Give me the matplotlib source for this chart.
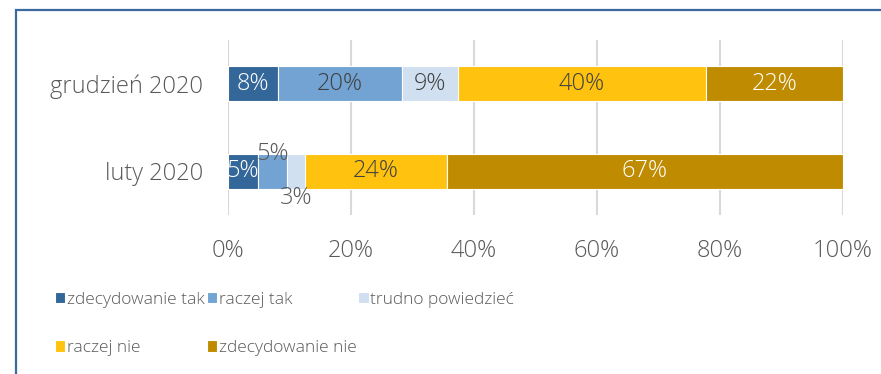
import numpy as np
import matplotlib
matplotlib.use("Agg")
import matplotlib.pyplot as plt
from matplotlib.patches import Rectangle
from matplotlib.ticker import FuncFormatter

plt.rcParams['font.family'] = ['Open Sans', 'DejaVu Sans']
plt.rcParams['font.weight'] = 300

periods = ['luty 2020', 'grudzień 2020']
answers = ['zdecydowanie tak', 'raczej tak', 'trudno powiedzieć', 'raczej nie', 'zdecydowanie nie']
# raw shares (%) per answer, one list per period
luty = [5, 5, 3, 24, 67]
grudzien = [8, 20, 9, 40, 22]
colors = ['#336699', '#72A3D3', '#D0E0F0', '#FFC20E', '#BF8B00']
label_colors = ['white', '#404040', '#404040', '#404040', 'white']

text_gray = '#595959'

fig = plt.figure(figsize=(8.81, 3.74), dpi=100)
ax = fig.add_axes([228 / 881, 1 - 215 / 374, (843 - 228) / 881, 175 / 374])

data = np.array([luty, grudzien], dtype=float)
# 100% stacked: each row normalised to its own total
shares = data / data.sum(axis=1, keepdims=True) * 100
left = np.zeros(len(periods))
for j, name in enumerate(answers):
    ax.barh(range(len(periods)), shares[:, j], left=left, height=0.4,
            color=colors[j], edgecolor='white', linewidth=0.8, label=name, zorder=3)
    for i in range(len(periods)):
        x = left[i] + shares[i, j] / 2
        y = i
        col = label_colors[j]
        # narrow segments in the February row get their labels moved off the bar
        if i == 0 and j == 1:
            y, col = i + 0.2, text_gray
        elif i == 0 and j == 2:
            y, col = i - 0.3, text_gray
        ax.text(x, y, f'{data[i, j]:.0f}%', ha='center', va='center',
                color=col, fontsize=17, zorder=4)
    left += shares[:, j]

ax.set_xlim(0, 100)
ax.set_ylim(-0.5, 1.5)
ax.set_xticks(np.arange(0, 101, 20))
ax.xaxis.set_major_formatter(FuncFormatter(lambda v, p: f'{v:.0f}%'))
ax.set_yticks(range(len(periods)))
ax.set_yticklabels(periods)
ax.grid(axis='x', color='#D9D9D9', linewidth=1.5, zorder=0)
for s in ax.spines.values():
    s.set_visible(False)
ax.tick_params(axis='both', length=0, labelsize=17, labelcolor=text_gray)
ax.tick_params(axis='x', pad=17)
ax.tick_params(axis='y', pad=18)

# legend filled row by row: reorder for matplotlib's column-major layout
h, l = ax.get_legend_handles_labels()
order = [0, 3, 1, 4, 2]
fig.legend([h[k] for k in order], [l[k] for k in order], ncol=3,
           loc='upper left', bbox_to_anchor=(55 / 881, 1 - 292 / 374),
           frameon=False, fontsize=12.5, handlelength=0.6, handleheight=0.6,
           handletextpad=0.1, columnspacing=0.1, labelspacing=1.85,
           labelcolor=text_gray, borderpad=0, borderaxespad=0)

# chart frame (only top and left edges fall inside the image)
fig.patches.append(Rectangle((16 / 881, -0.1), 1.2, 1 - 10 / 374 + 0.1,
                             transform=fig.transFigure, fill=False,
                             edgecolor='#3B6AA0', linewidth=1.6))

fig.savefig('out.png', dpi=100)
